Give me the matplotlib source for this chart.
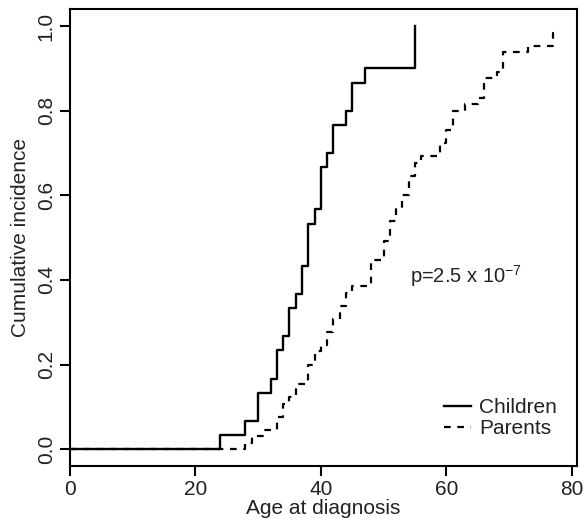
import numpy as np
import matplotlib
matplotlib.use("Agg")
import matplotlib.pyplot as plt

plt.rcParams['font.family'] = ['Liberation Sans', 'DejaVu Sans']

# cumulative number diagnosed by age
child_age = [24, 28, 30, 32, 33, 34, 35, 36, 37, 38, 39, 40, 41, 42, 44, 45, 47, 55]
child_count = [1, 2, 4, 5, 7, 8, 10, 11, 13, 16, 17, 20, 21, 23, 24, 26, 27, 30]
n_children = 30

parent_age = [28, 29, 31, 33, 34, 35, 36, 38, 39, 40, 41, 42, 43, 44, 45, 48, 50,
              51, 52, 53, 54, 55, 56, 59, 60, 61, 63, 65, 66, 68, 69, 73, 77]
parent_count = [1, 2, 3, 5, 7, 8, 10, 13, 15, 16, 18, 20, 22, 24, 25, 29, 32,
                35, 37, 39, 42, 44, 45, 47, 49, 52, 53, 54, 57, 58, 61, 62, 64]
n_parents = 65
parent_last_age = 78

p_text = r"p=2.5 x 10$^{\mathregular{-7}}$"

cx = [0] + child_age
cy = [0] + [c / n_children for c in child_count]
px = [0] + parent_age + [parent_last_age]
py = [0] + [c / n_parents for c in parent_count]
py = py + [py[-1]]

fs = 15
fig = plt.figure(figsize=(5.86, 5.24), dpi=100)
ax = fig.add_axes([0.1188, 0.1107, 0.8658, 0.8716])

ax.plot(px, py, drawstyle='steps-post', color='black', lw=1.6,
        linestyle=(0, (3.0, 3.0)), label='Parents')
ax.plot(cx, cy, drawstyle='steps-post', color='black', lw=1.7, label='Children')

ax.set_xlim(0, 80.8)
ax.set_ylim(-0.04, 1.04)
ax.set_xticks([0, 20, 40, 60, 80])
ax.set_yticks([0, 0.2, 0.4, 0.6, 0.8, 1.0])
ax.set_yticklabels(['0.0', '0.2', '0.4', '0.6', '0.8', '1.0'], rotation=90, va='center')
ax.tick_params(direction='out', length=7, width=1.5, labelsize=fs, pad=3, color='black',
               labelcolor='#222222')
for s in ax.spines.values():
    s.set_linewidth(1.5)

ax.set_xlabel('Age at diagnosis', fontsize=fs, labelpad=0, color='#222222')
ax.set_ylabel('Cumulative incidence', fontsize=fs, labelpad=5, color='#222222')

ax.text(54.2, 0.41, p_text, fontsize=14.5, va='center', ha='left', color='#222222')

h, l = ax.get_legend_handles_labels()
ax.legend(h[::-1], l[::-1], loc='lower right', bbox_to_anchor=(0.998, 0.02),
          frameon=False, fontsize=fs, handlelength=1.3, handletextpad=0.4,
          labelspacing=0.1, labelcolor='#222222')

fig.savefig('out.png', dpi=100)
